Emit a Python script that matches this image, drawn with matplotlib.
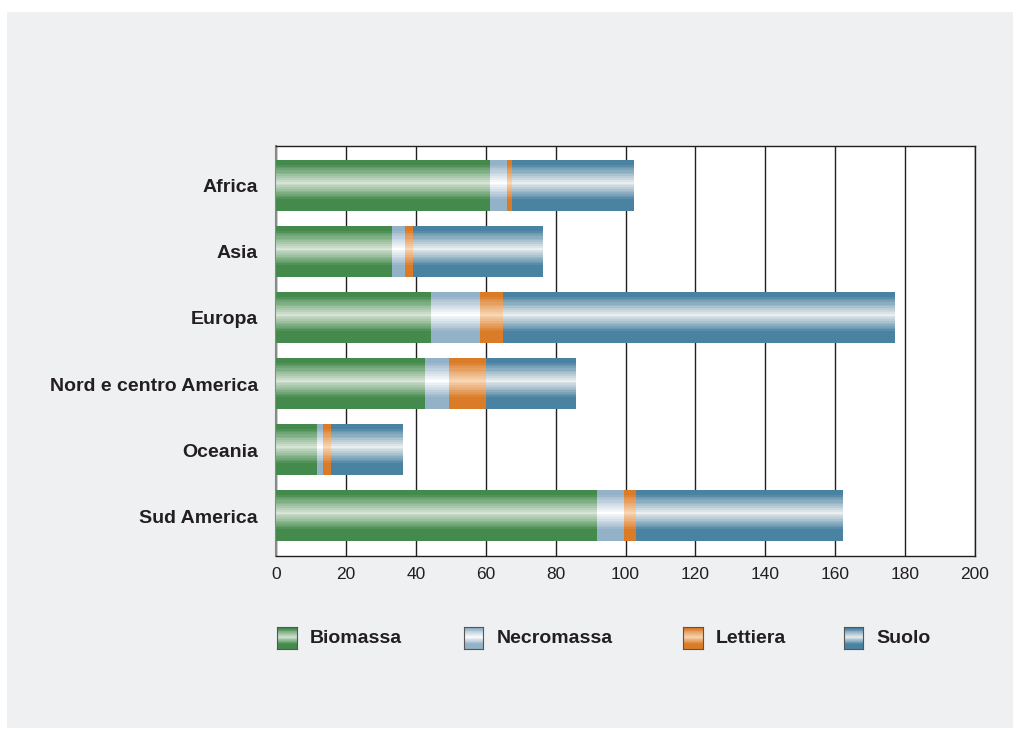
import numpy as np
import matplotlib.pyplot as plt
from matplotlib.colors import LinearSegmentedColormap
from matplotlib.patches import Rectangle

regions = ['Africa', 'Asia', 'Europa', 'Nord e centro America', 'Oceania', 'Sud America']
biomassa = [61.2, 33.2, 44.3, 42.6, 11.7, 91.9]
necromassa = [4.9, 3.7, 14.2, 6.9, 1.8, 7.7]
lettiera = [1.4, 2.2, 6.5, 10.6, 2.1, 3.4]
suolo = [34.9, 37.0, 112.1, 25.5, 20.4, 59.2]

series_names = ['Biomassa', 'Necromassa', 'Lettiera', 'Suolo']
series = [biomassa, necromassa, lettiera, suolo]
# dark edge colour / light centre colour
shades = [('#448a4c', '#d6e4d6'),
          ('#93b1c7', '#ffffff'),
          ('#d97b27', '#f9d6b4'),
          ('#4a82a2', '#eaeeef')]

plt.rcParams['font.family'] = ['Liberation Sans', 'DejaVu Sans']


def band_profile(n=60, levels=11):
    # banded vertical shading, lightest a bit above the middle
    t = np.linspace(0, 1, n)
    w = np.where(t < 0.45, 1 - (0.45 - t) / 0.38, 1 - (t - 0.45) / 0.33)
    w = np.clip(w, 0, 1)
    w = np.round(w * (levels - 1)) / (levels - 1)
    return w.reshape(-1, 1)


profile = band_profile()

fig = plt.figure(figsize=(10.2, 7.3), dpi=100)
fig.patch.set_facecolor('white')
fig.patches.append(Rectangle((0.007, 0.003), 0.986, 0.981, transform=fig.transFigure,
                             facecolor='#eff0f2', edgecolor='none', zorder=-5))

ax = fig.add_axes([0.2706, 0.2384, 0.6853, 0.5616])
ax.set_facecolor('white')

bar_h = 0.76
y = np.arange(len(regions))
cmaps = [LinearSegmentedColormap.from_list(n, [d, l]) for n, (d, l) in zip(series_names, shades)]

left = np.zeros(len(regions))
for vals, cmap in zip(series, cmaps):
    for i, v in enumerate(vals):
        ax.imshow(profile, cmap=cmap, vmin=0, vmax=1, aspect='auto', interpolation='nearest',
                  extent=(left[i], left[i] + v, y[i] + bar_h / 2, y[i] - bar_h / 2),
                  origin='upper', zorder=3)
    left += np.array(vals)

ax.set_xlim(0, 200)
ax.set_ylim(5.6, -0.6)
ax.set_xticks(np.arange(0, 201, 20))
ax.set_yticks(y)
ax.set_yticklabels(regions, fontsize=14, fontweight='bold', color='#231f20')
ax.tick_params(axis='y', length=0, pad=13)
ax.tick_params(axis='x', length=0, pad=8, labelsize=12.5, labelcolor='#231f20')
ax.grid(axis='x', color='#231f20', linewidth=1.0, zorder=1)
for s in ['top', 'right', 'bottom']:
    ax.spines[s].set_color('#231f20')
    ax.spines[s].set_linewidth(1.0)
ax.spines['left'].set_color('#888888')
ax.spines['left'].set_linewidth(1.5)

# legend drawn by hand so the swatches keep the banded shading
leg_x = [0.272, 0.455, 0.670, 0.827]
for xpos, name, cmap in zip(leg_x, series_names, cmaps):
    lax = fig.add_axes([xpos, 0.111, 0.019, 0.03])
    lax.imshow(profile, cmap=cmap, vmin=0, vmax=1, aspect='auto', interpolation='nearest')
    lax.set_xticks([])
    lax.set_yticks([])
    for s in lax.spines.values():
        s.set_color('#555555')
        s.set_linewidth(0.8)
    fig.text(xpos + 0.032, 0.126, name, fontsize=14, fontweight='bold',
             color='#231f20', va='center', ha='left')

fig.savefig('out.png', dpi=100)
